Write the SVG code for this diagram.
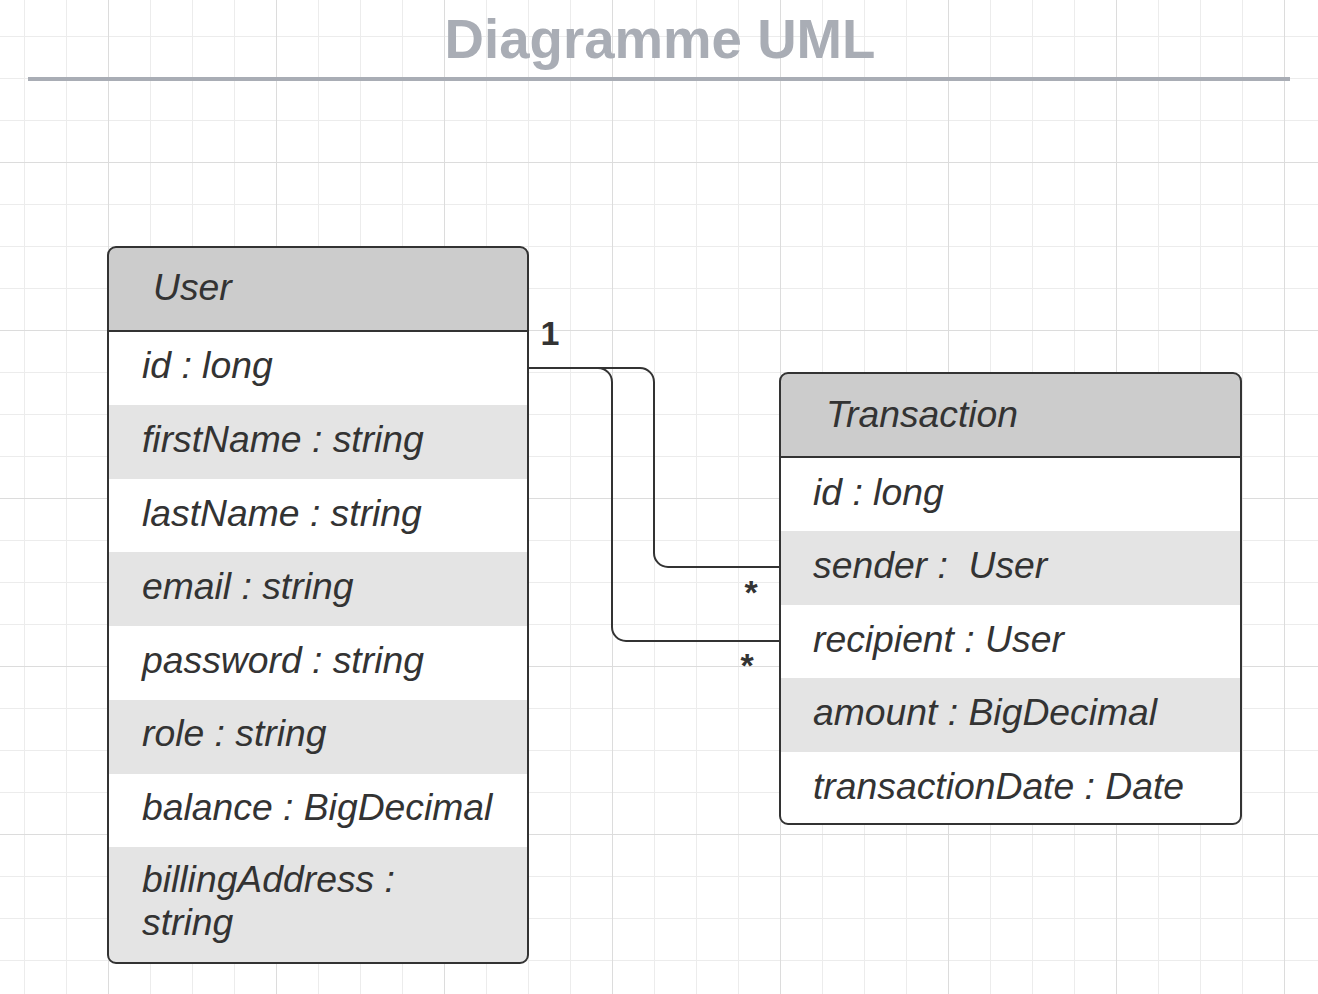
<svg xmlns="http://www.w3.org/2000/svg" width="1318" height="994" viewBox="0 0 1318 994">
<defs>
<pattern id="minor" patternUnits="userSpaceOnUse" x="24" y="36" width="42" height="42">
<path d="M0.5,0 V42 M0,0.5 H42" stroke="#ececec" stroke-width="1" fill="none"/>
</pattern>
<pattern id="major" patternUnits="userSpaceOnUse" x="108" y="162" width="168" height="168">
<path d="M0.5,0 V168 M0,0.5 H168" stroke="#dcdcdc" stroke-width="1" fill="none"/>
</pattern>
<clipPath id="clipUser"><rect x="108" y="247" width="420" height="716" rx="8"/></clipPath>
<clipPath id="clipTx"><rect x="780" y="373" width="461" height="451" rx="8"/></clipPath>
</defs>
<style>
.hdr{fill:#cccccc}
.alt{fill:#e4e4e4}
.outline{fill:none;stroke:#333333;stroke-width:2}
.sep{stroke:#333333;stroke-width:2}
.attr{font-family:"Liberation Sans",Arial,sans-serif;font-style:italic;font-size:37.3px;fill:#333333}
.mult{font-family:"Liberation Sans",Arial,sans-serif;font-weight:bold;font-size:34px;fill:#333333}
.conn{fill:none;stroke:#333333;stroke-width:2}
</style>
<rect width="1318" height="994" fill="#ffffff"/>
<rect width="1318" height="994" fill="url(#minor)"/>
<rect width="1318" height="994" fill="url(#major)"/>

<g id="title">
<text x="660" y="58" text-anchor="middle" font-family="'Liberation Sans',Arial,sans-serif" font-weight="bold" font-size="54.6" fill="#a9adb5">Diagramme UML</text>
<rect x="28" y="77" width="1262" height="4" fill="#a9adb5"/>
</g>

<g id="connectors">
<path class="conn" d="M527,368 H640 A14,14 0 0 1 654,382 V553 A14,14 0 0 0 668,567 H780"/>
<path class="conn" d="M527,368 H598 A14,14 0 0 1 612,382 V627 A14,14 0 0 0 626,641 H780"/>
<text class="mult" x="550" y="345" text-anchor="middle">1</text>
<text class="mult" x="751" y="604" text-anchor="middle">*</text>
<text class="mult" x="747" y="677" text-anchor="middle">*</text>
</g>

<g id="User">
<g clip-path="url(#clipUser)">
<rect x="108" y="247" width="420" height="716" fill="#ffffff"/>
<rect class="hdr" x="108" y="247" width="420" height="84"/>
<rect class="alt" x="108" y="405" width="420" height="74"/>
<rect class="alt" x="108" y="552" width="420" height="74"/>
<rect class="alt" x="108" y="700" width="420" height="74"/>
<rect class="alt" x="108" y="847" width="420" height="116"/>
</g>
<line class="sep" x1="108" y1="331" x2="528" y2="331"/>
<rect class="outline" x="108" y="247" width="420" height="716" rx="8"/>
<text class="attr" x="153" y="300">User</text>
<text class="attr" x="142" y="378">id : long</text>
<text class="attr" x="142" y="452">firstName : string</text>
<text class="attr" x="142" y="526">lastName : string</text>
<text class="attr" x="142" y="599">email : string</text>
<text class="attr" x="142" y="673">password : string</text>
<text class="attr" x="142" y="746">role : string</text>
<text class="attr" x="142" y="820">balance : BigDecimal</text>
<text class="attr" x="142" y="892">billingAddress :</text>
<text class="attr" x="142" y="935">string</text>
</g>

<g id="Transaction">
<g clip-path="url(#clipTx)">
<rect x="780" y="373" width="461" height="451" fill="#ffffff"/>
<rect class="hdr" x="780" y="373" width="461" height="84"/>
<rect class="alt" x="780" y="531" width="461" height="74"/>
<rect class="alt" x="780" y="678" width="461" height="74"/>
</g>
<line class="sep" x1="780" y1="457" x2="1241" y2="457"/>
<rect class="outline" x="780" y="373" width="461" height="451" rx="8"/>
<text class="attr" x="826" y="427">Transaction</text>
<text class="attr" x="813" y="505">id : long</text>
<text class="attr" x="813" y="578" xml:space="preserve">sender :  User</text>
<text class="attr" x="813" y="652">recipient : User</text>
<text class="attr" x="813" y="725">amount : BigDecimal</text>
<text class="attr" x="813" y="799">transactionDate : Date</text>
</g>
</svg>
